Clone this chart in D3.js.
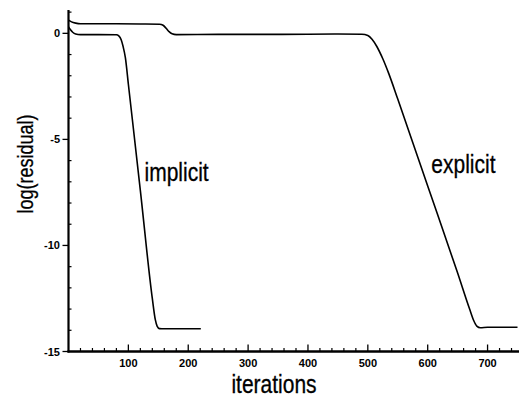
<!DOCTYPE html>
<html>
<head>
<meta charset="utf-8">
<script src="https://cdn.jsdelivr.net/npm/d3@7"></script>
<style>
  html, body { margin: 0; padding: 0; background: #fff; }
  svg { display: block; }
  text { font-family: "Liberation Sans", Arial, sans-serif; fill: #000; }
  .tick-label { font-size: 11px; font-weight: bold; }
  .big { font-size: 21px; stroke: #000; stroke-width: 0.25px; }
</style>
</head>
<body>
<svg id="chart" width="519" height="400"></svg>
<script>
// iterations vs log(residual)
const explicitIter = [0, 5, 12, 20, 60, 120, 152, 158, 163, 168, 173, 180, 250, 350, 450, 490, 500, 507, 515, 525, 535, 550, 600, 650, 670, 677, 682, 688, 700, 750];
const explicitRes  = [0.62, 0.54, 0.48, 0.45, 0.45, 0.44, 0.43, 0.38, 0.24, 0.08, -0.02, -0.06, -0.05, -0.05, -0.03, -0.04, -0.1, -0.28, -0.62, -1.2, -1.9, -3.1, -7.2, -11.3, -13.0, -13.55, -13.8, -13.88, -13.86, -13.86];

const implicitIter = [0, 3, 7, 12, 20, 50, 80, 84, 88, 91, 95, 100, 120, 140, 145, 148, 152, 160, 190, 221];
const implicitRes  = [0.3, 0.18, 0.05, -0.03, -0.06, -0.06, -0.07, -0.12, -0.3, -0.6, -1.15, -2.4, -7.4, -12.5, -13.5, -13.8, -13.92, -13.93, -13.93, -13.93];

const xMajor = [100, 200, 300, 400, 500, 600, 700];
const yMajor = [0, -5, -10, -15];

const labels = [
  { text: 'implicit', iter: 127, res: -6.95 },
  { text: 'explicit', iter: 606, res: -6.6 }
];

const svg = d3.select('#chart');
const x = d3.scaleLinear().domain([0, 752.5]).range([68.5, 519]);
const y = d3.scaleLinear().domain([-15, 1.1]).range([351.5, 10]);

const line = d3.line()
  .x(d => x(d[0]))
  .y(d => y(d[1]))
  .curve(d3.curveMonotoneX);

const series = [
  d3.zip(explicitIter, explicitRes),
  d3.zip(implicitIter, implicitRes)
];

svg.selectAll('path.curve').data(series).join('path')
  .attr('class', 'curve')
  .attr('d', line)
  .attr('fill', 'none')
  .attr('stroke', '#000')
  .attr('stroke-width', 1.6);

// x ticks point up into the plot, majors taller
const xMinor = d3.range(20, 752, 20).filter(v => v % 100 !== 0);
svg.append('g').selectAll('line').data(xMinor).join('line')
  .attr('x1', d => x(d)).attr('x2', d => x(d))
  .attr('y1', y(-15)).attr('y2', y(-15) - 3.5)
  .attr('stroke', '#000').attr('stroke-width', 1.2);
svg.append('g').selectAll('line').data(xMajor).join('line')
  .attr('x1', d => x(d)).attr('x2', d => x(d))
  .attr('y1', y(-15)).attr('y2', y(-15) - 7)
  .attr('stroke', '#000').attr('stroke-width', 1.3);

// y: minors inside, majors outside
const yMinor = d3.range(-14, 2, 1).filter(v => v % 5 !== 0);
svg.append('g').selectAll('line').data(yMinor).join('line')
  .attr('x1', x(0)).attr('x2', x(0) + 3)
  .attr('y1', d => y(d)).attr('y2', d => y(d))
  .attr('stroke', '#000').attr('stroke-width', 1.2);
svg.append('g').selectAll('line').data(yMajor).join('line')
  .attr('x1', x(0)).attr('x2', x(0) - 6)
  .attr('y1', d => y(d)).attr('y2', d => y(d))
  .attr('stroke', '#000').attr('stroke-width', 1.3);

// axis lines
svg.append('line')
  .attr('x1', x(0)).attr('x2', x(0))
  .attr('y1', y(1.1)).attr('y2', y(-15) + 1)
  .attr('stroke', '#000').attr('stroke-width', 2.2);
svg.append('line')
  .attr('x1', x(0) - 1).attr('x2', 519)
  .attr('y1', y(-15)).attr('y2', y(-15))
  .attr('stroke', '#000').attr('stroke-width', 2.4);

// tick labels
svg.append('g').selectAll('text').data(xMajor).join('text')
  .attr('class', 'tick-label')
  .attr('x', d => x(d)).attr('y', 367)
  .attr('text-anchor', 'middle')
  .text(d => d);
svg.append('g').selectAll('text').data(yMajor).join('text')
  .attr('class', 'tick-label')
  .attr('x', 60).attr('y', d => y(d) + 4)
  .attr('text-anchor', 'end')
  .text(d => d);

// axis titles (the scanned type is tall, so stretch it a little)
svg.append('text').attr('class', 'big')
  .attr('transform', 'translate(274,393) scale(1,1.2)')
  .attr('text-anchor', 'middle')
  .text('iterations');
svg.append('text').attr('class', 'big')
  .attr('transform', 'translate(33,164) rotate(-90) scale(1,1.2)')
  .attr('text-anchor', 'middle')
  .style('font-size', '18px')
  .text('log(residual)');

svg.append('g').selectAll('text').data(labels).join('text')
  .attr('class', 'big')
  .attr('transform', d => `translate(${x(d.iter)},${y(d.res)}) scale(1,1.2)`)
  .text(d => d.text);
</script>
</body>
</html>
